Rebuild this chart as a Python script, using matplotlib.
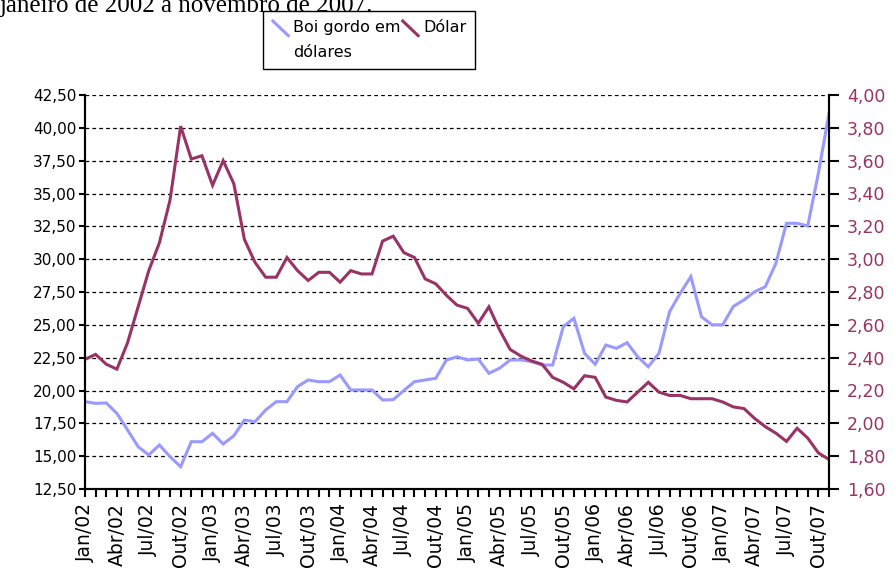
import matplotlib
matplotlib.use("Agg")
import matplotlib.pyplot as plt
from matplotlib.legend_handler import HandlerBase
from matplotlib.lines import Line2D
from matplotlib.ticker import FuncFormatter

# Meses de jan/2002 a nov/2007
month_names = ['Jan', 'Fev', 'Mar', 'Abr', 'Mai', 'Jun',
               'Jul', 'Ago', 'Set', 'Out', 'Nov', 'Dez']
years = ['02', '03', '04', '05', '06', '07']
months = [f'{m}/{y}' for y in years for m in month_names][:71]

# Boi gordo em dólares (eixo esquerdo)
boi = [19.15, 19.02, 19.05, 18.26, 17.00, 15.72, 15.09, 15.85, 14.96, 14.20,
       16.10, 16.10, 16.74, 15.93, 16.55, 17.75, 17.63, 18.52, 19.15, 19.15,
       20.30, 20.80, 20.67, 20.67, 21.18, 20.04, 20.04, 20.04, 19.28, 19.30,
       20.00, 20.67, 20.80, 20.93, 22.32, 22.57, 22.32, 22.40, 21.31, 21.69,
       22.32, 22.33, 22.20, 21.94, 21.94, 24.86, 25.50, 22.83, 22.00, 23.46,
       23.21, 23.64, 22.57, 21.81, 22.83, 26.00, 27.40, 28.67, 25.62, 25.00,
       25.00, 26.40, 26.90, 27.52, 27.90, 29.68, 32.73, 32.73, 32.53, 36.54,
       41.10]

# Dólar (eixo direito)
dolar = [2.39, 2.42, 2.36, 2.33, 2.49, 2.71, 2.93, 3.10, 3.36, 3.81,
         3.61, 3.63, 3.45, 3.60, 3.46, 3.12, 2.98, 2.89, 2.89, 3.01,
         2.93, 2.87, 2.92, 2.92, 2.86, 2.93, 2.91, 2.91, 3.11, 3.14,
         3.04, 3.01, 2.88, 2.85, 2.78, 2.72, 2.70, 2.61, 2.71, 2.57,
         2.45, 2.41, 2.38, 2.36, 2.28, 2.25, 2.21, 2.29, 2.28, 2.16,
         2.14, 2.13, 2.19, 2.25, 2.19, 2.17, 2.17, 2.15, 2.15, 2.15,
         2.13, 2.10, 2.09, 2.03, 1.98, 1.94, 1.89, 1.97, 1.91, 1.82,
         1.78]

left_ticks = [12.5 + 2.5 * k for k in range(13)]
right_ticks = [1.6 + 0.2 * k for k in range(13)]

BLUE = '#9999ff'
WINE = '#993366'


class DiagHandler(HandlerBase):
    # short diagonal stroke, sitting on the first text line
    def create_artists(self, legend, orig_handle, xdescent, ydescent,
                       width, height, fontsize, trans):
        up = 0.75 * fontsize
        ln = Line2D([0, width], [height + up + 2, up - 2],
                    color=orig_handle.get_color(),
                    lw=orig_handle.get_linewidth(), solid_capstyle='butt')
        ln.set_transform(trans)
        return [ln]


plt.rcParams['font.family'] = 'DejaVu Sans'
plt.rcParams['font.size'] = 11

fig = plt.figure(figsize=(8.94, 5.70), dpi=100)
ax = fig.add_axes([85 / 894, 1 - 489 / 570, (829 - 85) / 894, (489 - 95) / 570])
ax2 = ax.twinx()

x = list(range(len(months)))
l1, = ax.plot(x, boi, color=BLUE, lw=2.2, solid_joinstyle='miter')
l2, = ax2.plot(x, dolar, color=WINE, lw=2.2, solid_joinstyle='miter')

fmt = FuncFormatter(lambda v, p: f'{v:.2f}'.replace('.', ','))

ax.set_xlim(0, len(months) - 1)
ax.set_ylim(12.5, 42.5)
ax.set_yticks(left_ticks)
ax.yaxis.set_major_formatter(fmt)
ax2.set_ylim(1.6, 4.0)
ax2.set_yticks(right_ticks)
ax2.yaxis.set_major_formatter(fmt)

ax.set_xticks(x)
ax.set_xticklabels([m if i % 3 == 0 else '' for i, m in enumerate(months)],
                   rotation=90, fontsize=13.5)

ax.grid(axis='y', color='black', lw=0.9, linestyle=(0, (3, 2.5)))
ax.set_axisbelow(True)

for a in (ax, ax2):
    a.spines['top'].set_visible(False)
    for s in ('left', 'right', 'bottom'):
        a.spines[s].set_linewidth(1.5)
ax.tick_params(axis='y', direction='out', length=4, width=1.5, pad=2)
ax.tick_params(axis='x', direction='out', length=6, width=1.5, pad=4)
ax2.tick_params(axis='y', direction='out', length=7, width=1.5, pad=6,
                labelcolor=WINE, labelsize=12.5)

leg = fig.legend([l1, l2], ['Boi gordo em\ndólares', 'Dólar\n'],
                 handler_map={Line2D: DiagHandler()},
                 loc='upper left', bbox_to_anchor=(263 / 894, 1 - 11 / 570),
                 ncol=2, frameon=True, fancybox=False, edgecolor='black',
                 framealpha=1, borderpad=0.55, handlelength=1.1,
                 handletextpad=0.25, columnspacing=0.05, borderaxespad=0,
                 prop={'size': 11.5})
for t in leg.get_texts():
    t.set_linespacing(1.85)

fig.text(0.0, 1 - 12 / 570, 'janeiro de 2002 a novembro de 2007.',
         family='Liberation Serif', fontsize=18, va='baseline', ha='left')

fig.savefig('out.png', dpi=100)
